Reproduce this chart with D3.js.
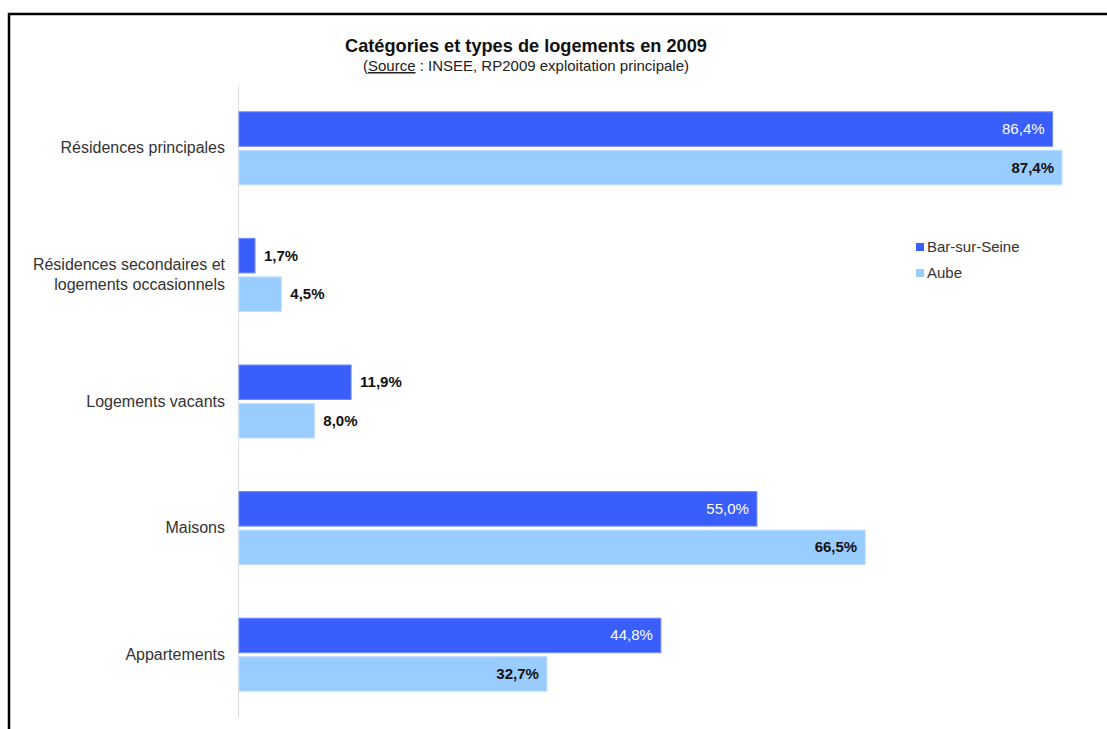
<!DOCTYPE html>
<html>
<head>
<meta charset="utf-8">
<script src="https://cdn.jsdelivr.net/npm/d3@7"></script>
<style>
  body { margin: 0; background: white; }
  svg { font-family: "Liberation Sans", Arial, Helvetica, sans-serif; }
</style>
</head>
<body>
<script>
const width = 1107;
const height = 729;

// Data
const categories = [
  ["Résidences principales"],
  ["Résidences secondaires et", "logements occasionnels"],
  ["Logements vacants"],
  ["Maisons"],
  ["Appartements"]
];
const seriesNames = ["Bar-sur-Seine", "Aube"];
const barSurSeine = [86.4, 1.7, 11.9, 55.0, 44.8];
const aube = [87.4, 4.5, 8.0, 66.5, 32.7];
const colors = ["#3a5efc", "#99ccff"];

const svg = d3.select("body")
  .append("svg")
  .attr("width", width)
  .attr("height", height);

// Frame
svg.append("path")
  .attr("d", `M9,${height} V14 H${width}`)
  .attr("fill", "none")
  .attr("stroke", "black")
  .attr("stroke-width", 2.5);

// Title
svg.append("text")
  .attr("x", 526).attr("y", 52)
  .attr("text-anchor", "middle")
  .attr("font-size", 18.2)
  .attr("font-weight", "bold")
  .attr("fill", "#111")
  .text("Catégories et types de logements en 2009");

const sub = svg.append("text")
  .attr("x", 526).attr("y", 71)
  .attr("text-anchor", "middle")
  .attr("font-size", 15)
  .attr("fill", "#222");
sub.append("tspan").text("(");
sub.append("tspan").attr("text-decoration", "underline").text("Source");
sub.append("tspan").text(" : INSEE, RP2009 exploitation principale)");

// Scales
const x = d3.scaleLinear().domain([0, 87.4]).range([239, 1062]);
const y = d3.scaleBand().domain(d3.range(categories.length)).range([85, 718]);
const barH = 34.5, gap = 4;

// Axis line
svg.append("line")
  .attr("x1", 238.5).attr("x2", 238.5)
  .attr("y1", 85).attr("y2", 718)
  .attr("stroke", "#dddddd")
  .attr("stroke-width", 1);

// Category labels
categories.forEach((lines, i) => {
  const cy = y(i) + y.bandwidth() / 2;
  const t = svg.append("text")
    .attr("x", 225)
    .attr("text-anchor", "end")
    .attr("font-size", 16)
    .attr("fill", "#333");
  lines.forEach((l, j) => {
    t.append("tspan")
      .attr("x", 225)
      .attr("y", cy + 5 + (j - (lines.length - 1) / 2) * 20)
      .text(l);
  });
});

// Bars
const fmt = v => d3.format(".1f")(v).replace(".", ",") + "%";
[barSurSeine, aube].forEach((vals, s) => {
  vals.forEach((v, i) => {
    const top = y(i) + (y.bandwidth() - (2 * barH + gap)) / 2 + s * (barH + gap);
    svg.append("rect")
      .attr("x", x(0))
      .attr("y", top)
      .attr("width", x(v) - x(0))
      .attr("height", barH)
      .attr("fill", colors[s])
      .attr("stroke", s === 0 ? "#6d88ff" : "#bfe0ff")
      .attr("stroke-width", 1);
    const inside = x(v) - x(0) > 150;
    svg.append("text")
      .attr("x", inside ? x(v) - 8 : x(v) + 9)
      .attr("y", top + barH / 2 + 5)
      .attr("text-anchor", inside ? "end" : "start")
      .attr("font-size", 15)
      .attr("font-weight", inside && s === 0 ? "normal" : "bold")
      .attr("fill", inside && s === 0 ? "white" : "#111")
      .text(fmt(v));
  });
});

// Legend
seriesNames.forEach((n, i) => {
  const ly = 247 + i * 26;
  svg.append("rect")
    .attr("x", 916).attr("y", ly - 4)
    .attr("width", 8).attr("height", 8)
    .attr("fill", colors[i]);
  svg.append("text")
    .attr("x", 927).attr("y", ly + 5)
    .attr("font-size", 15)
    .attr("fill", "#333")
    .text(n);
});
</script>
</body>
</html>
